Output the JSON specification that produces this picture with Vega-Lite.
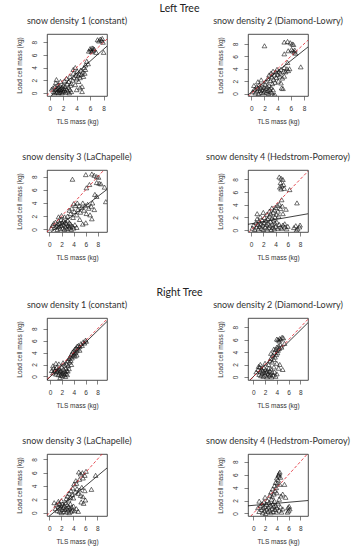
{
"$schema":"https://vega.github.io/schema/vega-lite/v6.json",
"background":"white",
"padding":{"left":15,"top":4,"right":0,"bottom":0},
"config":{
 "view":{"stroke":"#222","strokeWidth":0.8},
 "axis":{"grid":false,"domain":false,"tickColor":"#333","tickSize":4,"tickWidth":0.6,"labelFont":"Liberation Sans","labelFontSize":6.5,"labelColor":"#333","labelFlush":false,"labelOverlap":false,"titleFont":"Liberation Sans","titleFontSize":6.5,"titleFontWeight":"normal","titleColor":"#333","labelPadding":3},
 "axisX":{"titlePadding":7,"labelAngle":0,"labelPadding":5},
 "axisY":{"labelAngle":-90,"labelAlign":"center","labelBaseline":"bottom","labelPadding":6,"titlePadding":9},
 "title":{"font":"Lato","fontSize":9,"fontWeight":"normal","color":"#333","offset":8,"anchor":"middle"}
},
"datasets":{
 "fit":[
  {"p":"L1","x":-1,"y":-1.65,"x2":10,"y2":8.8},
  {"p":"L2","x":-1,"y":-0.65,"x2":10,"y2":8.7},
  {"p":"L3","x":-1,"y":-1.3,"x2":10,"y2":6.4},
  {"p":"L4","x":-1,"y":0.83,"x2":10,"y2":2.7},
  {"p":"R1","x":-1,"y":-1.07,"x2":10,"y2":9.6},
  {"p":"R2","x":-1,"y":-0.9,"x2":10,"y2":9.4},
  {"p":"R3","x":-1,"y":-1.25,"x2":10,"y2":7.0},
  {"p":"R4","x":-1,"y":1.17,"x2":10,"y2":2.05}
 ],
 "pts":[
  {"p":"L1","x":0.3,"y":0.6},{"p":"L1","x":0.5,"y":0.8},{"p":"L1","x":0.6,"y":0.2},{"p":"L1","x":0.8,"y":1.0},{"p":"L1","x":0.9,"y":0.5},{"p":"L1","x":1.0,"y":0.1},{"p":"L1","x":1.1,"y":0.7},{"p":"L1","x":1.2,"y":1.3},{"p":"L1","x":1.2,"y":0.3},{"p":"L1","x":1.3,"y":0.9},{"p":"L1","x":1.4,"y":0.5},{"p":"L1","x":1.5,"y":0.1},{"p":"L1","x":1.5,"y":1.1},{"p":"L1","x":1.6,"y":0.6},{"p":"L1","x":1.7,"y":0.3},{"p":"L1","x":1.8,"y":0.9},{"p":"L1","x":1.8,"y":0.0},{"p":"L1","x":1.9,"y":0.5},{"p":"L1","x":2.0,"y":1.2},{"p":"L1","x":2.0,"y":0.2},{"p":"L1","x":2.1,"y":0.7},{"p":"L1","x":2.2,"y":0.4},{"p":"L1","x":2.3,"y":1.0},{"p":"L1","x":2.4,"y":0.1},{"p":"L1","x":2.5,"y":0.6},{"p":"L1","x":2.6,"y":1.4},{"p":"L1","x":2.7,"y":0.3},{"p":"L1","x":2.8,"y":0.9},{"p":"L1","x":3.0,"y":0.5},{"p":"L1","x":3.1,"y":1.2},{"p":"L1","x":1.0,"y":2.1},{"p":"L1","x":0.9,"y":1.6},{"p":"L1","x":1.6,"y":1.8},{"p":"L1","x":2.2,"y":1.9},{"p":"L1","x":3.2,"y":0.2},{"p":"L1","x":0.7,"y":0.0},{"p":"L1","x":1.3,"y":0.0},{"p":"L1","x":2.9,"y":0.0},
  {"p":"L1","x":2.5,"y":2.3},{"p":"L1","x":2.8,"y":1.8},{"p":"L1","x":3.0,"y":2.6},{"p":"L1","x":3.2,"y":1.5},{"p":"L1","x":3.4,"y":2.0},{"p":"L1","x":3.5,"y":3.1},{"p":"L1","x":3.6,"y":2.4},{"p":"L1","x":3.8,"y":1.3},{"p":"L1","x":3.9,"y":2.8},{"p":"L1","x":4.0,"y":2.2},{"p":"L1","x":4.1,"y":3.4},{"p":"L1","x":4.2,"y":2.7},{"p":"L1","x":4.3,"y":1.8},{"p":"L1","x":4.4,"y":3.0},{"p":"L1","x":4.5,"y":2.4},{"p":"L1","x":4.6,"y":3.6},{"p":"L1","x":4.7,"y":2.9},{"p":"L1","x":4.8,"y":1.0},{"p":"L1","x":4.9,"y":3.3},{"p":"L1","x":5.0,"y":2.6},{"p":"L1","x":5.1,"y":4.0},{"p":"L1","x":5.2,"y":3.1},{"p":"L1","x":5.3,"y":3.7},{"p":"L1","x":4.5,"y":0.8},{"p":"L1","x":4.8,"y":0.2},{"p":"L1","x":3.8,"y":4.0},{"p":"L1","x":3.5,"y":3.7},{"p":"L1","x":4.0,"y":0.5},{"p":"L1","x":5.5,"y":5.0},{"p":"L1","x":5.7,"y":4.6},{"p":"L1","x":5.3,"y":4.4},
  {"p":"L1","x":5.8,"y":6.6},{"p":"L1","x":6.0,"y":7.0},{"p":"L1","x":6.1,"y":6.8},{"p":"L1","x":6.3,"y":7.1},{"p":"L1","x":6.4,"y":6.7},{"p":"L1","x":6.5,"y":7.0},{"p":"L1","x":6.6,"y":6.9},{"p":"L1","x":6.2,"y":6.5},{"p":"L1","x":6.9,"y":6.4},{"p":"L1","x":7.3,"y":8.2},{"p":"L1","x":7.5,"y":8.5},{"p":"L1","x":7.7,"y":8.3},{"p":"L1","x":7.9,"y":8.0},{"p":"L1","x":7.8,"y":8.6},{"p":"L1","x":7.1,"y":8.4},{"p":"L1","x":8.0,"y":6.4},

  {"p":"L2","x":0.2,"y":0.3},{"p":"L2","x":0.5,"y":0.7},{"p":"L2","x":0.6,"y":0.1},{"p":"L2","x":0.8,"y":1.1},{"p":"L2","x":0.9,"y":0.4},{"p":"L2","x":1.0,"y":0.8},{"p":"L2","x":1.1,"y":0.0},{"p":"L2","x":1.2,"y":1.4},{"p":"L2","x":1.3,"y":0.5},{"p":"L2","x":1.4,"y":0.9},{"p":"L2","x":1.5,"y":0.2},{"p":"L2","x":1.6,"y":1.2},{"p":"L2","x":1.7,"y":0.6},{"p":"L2","x":1.8,"y":0.1},{"p":"L2","x":1.9,"y":1.0},{"p":"L2","x":2.0,"y":0.4},{"p":"L2","x":2.1,"y":1.5},{"p":"L2","x":2.2,"y":0.8},{"p":"L2","x":2.3,"y":0.2},{"p":"L2","x":2.4,"y":1.1},{"p":"L2","x":2.5,"y":0.5},{"p":"L2","x":2.6,"y":0.0},{"p":"L2","x":2.7,"y":1.3},{"p":"L2","x":2.8,"y":0.7},{"p":"L2","x":2.9,"y":0.3},{"p":"L2","x":3.0,"y":1.0},{"p":"L2","x":3.1,"y":0.2},{"p":"L2","x":3.2,"y":1.6},{"p":"L2","x":3.3,"y":0.6},{"p":"L2","x":3.4,"y":-0.3},{"p":"L2","x":3.6,"y":-0.2},{"p":"L2","x":1.0,"y":1.9},{"p":"L2","x":1.5,"y":2.2},{"p":"L2","x":2.2,"y":1.9},{"p":"L2","x":0.4,"y":1.3},
  {"p":"L2","x":2.5,"y":2.4},{"p":"L2","x":2.7,"y":3.0},{"p":"L2","x":2.9,"y":2.1},{"p":"L2","x":3.0,"y":3.3},{"p":"L2","x":3.1,"y":2.7},{"p":"L2","x":3.3,"y":3.6},{"p":"L2","x":3.4,"y":2.3},{"p":"L2","x":3.5,"y":3.0},{"p":"L2","x":3.6,"y":1.8},{"p":"L2","x":3.7,"y":3.5},{"p":"L2","x":3.8,"y":2.6},{"p":"L2","x":3.9,"y":3.9},{"p":"L2","x":4.0,"y":3.1},{"p":"L2","x":4.1,"y":2.0},{"p":"L2","x":4.2,"y":3.6},{"p":"L2","x":4.3,"y":2.8},{"p":"L2","x":4.4,"y":3.3},{"p":"L2","x":4.5,"y":1.7},{"p":"L2","x":4.6,"y":0.9},{"p":"L2","x":4.8,"y":0.8},{"p":"L2","x":4.5,"y":3.9},{"p":"L2","x":4.9,"y":3.6},{"p":"L2","x":5.0,"y":4.2},{"p":"L2","x":5.2,"y":3.5},{"p":"L2","x":5.4,"y":4.0},{"p":"L2","x":5.6,"y":3.7},{"p":"L2","x":5.8,"y":4.0},{"p":"L2","x":5.0,"y":2.8},{"p":"L2","x":4.7,"y":2.5},{"p":"L2","x":5.5,"y":5.0},
  {"p":"L2","x":2.0,"y":7.7},{"p":"L2","x":5.0,"y":8.3},{"p":"L2","x":5.5,"y":8.4},{"p":"L2","x":5.9,"y":8.2},{"p":"L2","x":6.2,"y":8.0},{"p":"L2","x":6.4,"y":7.9},{"p":"L2","x":5.0,"y":6.4},{"p":"L2","x":5.6,"y":6.9},{"p":"L2","x":6.1,"y":7.1},{"p":"L2","x":6.3,"y":6.9},{"p":"L2","x":6.5,"y":6.7},{"p":"L2","x":6.6,"y":7.0},{"p":"L2","x":6.7,"y":6.5},{"p":"L2","x":7.5,"y":4.3},

  {"p":"L3","x":0.3,"y":0.2},{"p":"L3","x":0.5,"y":0.6},{"p":"L3","x":0.7,"y":0.9},{"p":"L3","x":0.9,"y":0.3},{"p":"L3","x":1.0,"y":1.1},{"p":"L3","x":1.2,"y":0.5},{"p":"L3","x":1.3,"y":0.0},{"p":"L3","x":1.4,"y":0.8},{"p":"L3","x":1.5,"y":1.3},{"p":"L3","x":1.6,"y":0.4},{"p":"L3","x":1.7,"y":0.9},{"p":"L3","x":1.8,"y":0.1},{"p":"L3","x":1.9,"y":1.5},{"p":"L3","x":2.0,"y":0.6},{"p":"L3","x":2.1,"y":1.0},{"p":"L3","x":2.2,"y":0.2},{"p":"L3","x":2.3,"y":1.3},{"p":"L3","x":2.4,"y":0.7},{"p":"L3","x":2.5,"y":0.0},{"p":"L3","x":2.6,"y":1.1},{"p":"L3","x":2.7,"y":0.4},{"p":"L3","x":2.8,"y":0.9},{"p":"L3","x":2.9,"y":0.1},{"p":"L3","x":3.0,"y":1.4},{"p":"L3","x":3.1,"y":0.6},{"p":"L3","x":3.2,"y":0.2},{"p":"L3","x":3.3,"y":1.0},{"p":"L3","x":3.4,"y":0.4},{"p":"L3","x":3.5,"y":0.8},{"p":"L3","x":3.6,"y":0.0},{"p":"L3","x":3.8,"y":0.5},{"p":"L3","x":4.0,"y":0.2},{"p":"L3","x":4.2,"y":0.7},{"p":"L3","x":4.5,"y":0.3},{"p":"L3","x":2.0,"y":2.1},{"p":"L3","x":1.5,"y":1.9},{"p":"L3","x":2.5,"y":1.9},
  {"p":"L3","x":3.0,"y":2.0},{"p":"L3","x":3.3,"y":2.9},{"p":"L3","x":3.5,"y":2.4},{"p":"L3","x":3.7,"y":3.2},{"p":"L3","x":3.9,"y":1.8},{"p":"L3","x":4.1,"y":2.7},{"p":"L3","x":4.3,"y":3.6},{"p":"L3","x":4.5,"y":2.2},{"p":"L3","x":4.7,"y":3.0},{"p":"L3","x":4.9,"y":3.6},{"p":"L3","x":5.1,"y":2.6},{"p":"L3","x":5.3,"y":3.3},{"p":"L3","x":5.5,"y":4.0},{"p":"L3","x":5.7,"y":2.9},{"p":"L3","x":5.9,"y":3.6},{"p":"L3","x":6.1,"y":2.4},{"p":"L3","x":6.3,"y":3.8},{"p":"L3","x":6.5,"y":3.2},{"p":"L3","x":6.7,"y":2.2},{"p":"L3","x":6.9,"y":3.5},{"p":"L3","x":7.1,"y":4.0},{"p":"L3","x":7.4,"y":3.0},{"p":"L3","x":7.0,"y":1.6},{"p":"L3","x":6.0,"y":1.0},{"p":"L3","x":5.0,"y":1.5},{"p":"L3","x":5.5,"y":0.8},{"p":"L3","x":9.3,"y":4.2},{"p":"L3","x":4.0,"y":3.9},{"p":"L3","x":4.6,"y":4.0},
  {"p":"L3","x":3.8,"y":7.6},{"p":"L3","x":6.0,"y":8.3},{"p":"L3","x":7.0,"y":8.4},{"p":"L3","x":7.4,"y":8.2},{"p":"L3","x":7.8,"y":8.0},{"p":"L3","x":8.1,"y":7.9},{"p":"L3","x":7.8,"y":7.1},{"p":"L3","x":8.2,"y":7.0},{"p":"L3","x":8.5,"y":6.9},{"p":"L3","x":6.6,"y":6.8},{"p":"L3","x":6.1,"y":6.3},{"p":"L3","x":9.1,"y":6.4},{"p":"L3","x":7.5,"y":5.3},{"p":"L3","x":7.8,"y":5.0},

  {"p":"L4","x":0.2,"y":0.3},{"p":"L4","x":0.4,"y":0.8},{"p":"L4","x":0.6,"y":0.1},{"p":"L4","x":0.8,"y":1.2},{"p":"L4","x":0.9,"y":0.5},{"p":"L4","x":1.0,"y":1.8},{"p":"L4","x":1.1,"y":0.9},{"p":"L4","x":1.2,"y":0.2},{"p":"L4","x":1.3,"y":1.4},{"p":"L4","x":1.4,"y":0.6},{"p":"L4","x":1.5,"y":2.1},{"p":"L4","x":1.6,"y":1.0},{"p":"L4","x":1.7,"y":0.3},{"p":"L4","x":1.8,"y":1.6},{"p":"L4","x":1.9,"y":0.8},{"p":"L4","x":2.0,"y":0.1},{"p":"L4","x":2.1,"y":1.2},{"p":"L4","x":2.2,"y":2.0},{"p":"L4","x":2.3,"y":0.5},{"p":"L4","x":2.4,"y":1.5},{"p":"L4","x":2.5,"y":0.9},{"p":"L4","x":2.6,"y":0.2},{"p":"L4","x":2.7,"y":1.8},{"p":"L4","x":2.8,"y":1.1},{"p":"L4","x":2.9,"y":0.4},{"p":"L4","x":3.0,"y":2.2},{"p":"L4","x":3.1,"y":0.7},{"p":"L4","x":3.2,"y":1.4},{"p":"L4","x":3.3,"y":0.1},{"p":"L4","x":3.4,"y":1.9},{"p":"L4","x":3.5,"y":0.9},{"p":"L4","x":3.6,"y":0.4},{"p":"L4","x":3.7,"y":1.6},{"p":"L4","x":3.8,"y":0.2},{"p":"L4","x":3.9,"y":1.1},{"p":"L4","x":4.0,"y":0.6},{"p":"L4","x":4.2,"y":1.3},{"p":"L4","x":4.4,"y":0.3},{"p":"L4","x":4.6,"y":0.9},{"p":"L4","x":4.8,"y":0.5},{"p":"L4","x":5.0,"y":0.3},{"p":"L4","x":5.2,"y":0.8},{"p":"L4","x":5.5,"y":0.5},{"p":"L4","x":5.8,"y":0.2},{"p":"L4","x":1.0,"y":2.6},{"p":"L4","x":2.0,"y":2.8},{"p":"L4","x":2.6,"y":2.5},
  {"p":"L4","x":3.0,"y":3.0},{"p":"L4","x":3.2,"y":2.6},{"p":"L4","x":3.4,"y":3.5},{"p":"L4","x":3.6,"y":2.8},{"p":"L4","x":3.8,"y":3.2},{"p":"L4","x":4.0,"y":3.6},{"p":"L4","x":4.1,"y":2.5},{"p":"L4","x":4.3,"y":3.9},{"p":"L4","x":4.4,"y":3.0},{"p":"L4","x":4.6,"y":4.1},{"p":"L4","x":4.8,"y":3.4},{"p":"L4","x":5.0,"y":4.8},{"p":"L4","x":5.1,"y":3.8},{"p":"L4","x":4.5,"y":2.2},{"p":"L4","x":3.9,"y":2.1},{"p":"L4","x":5.2,"y":2.6},{"p":"L4","x":5.7,"y":3.3},{"p":"L4","x":7.5,"y":4.3},
  {"p":"L4","x":4.6,"y":8.4},{"p":"L4","x":4.9,"y":8.2},{"p":"L4","x":5.2,"y":8.0},{"p":"L4","x":4.8,"y":7.5},{"p":"L4","x":5.0,"y":7.0},{"p":"L4","x":5.3,"y":7.2},{"p":"L4","x":4.7,"y":6.8},{"p":"L4","x":5.4,"y":6.6},{"p":"L4","x":4.9,"y":6.5},{"p":"L4","x":6.3,"y":6.4},
  {"p":"L4","x":7.0,"y":0.4},{"p":"L4","x":7.3,"y":0.7},{"p":"L4","x":7.6,"y":0.2},{"p":"L4","x":7.9,"y":0.5},{"p":"L4","x":7.4,"y":0.0},{"p":"L4","x":8.0,"y":0.8},{"p":"L4","x":5.5,"y":1.0},{"p":"L4","x":6.0,"y":0.6},

  {"p":"R1","x":0.3,"y":1.0},{"p":"R1","x":0.5,"y":0.6},{"p":"R1","x":0.6,"y":1.4},{"p":"R1","x":0.8,"y":0.9},{"p":"R1","x":0.9,"y":1.2},{"p":"R1","x":1.0,"y":0.4},{"p":"R1","x":1.1,"y":1.5},{"p":"R1","x":1.2,"y":0.8},{"p":"R1","x":1.3,"y":1.1},{"p":"R1","x":1.4,"y":0.3},{"p":"R1","x":1.5,"y":1.3},{"p":"R1","x":1.6,"y":0.7},{"p":"R1","x":1.7,"y":1.0},{"p":"R1","x":1.8,"y":0.2},{"p":"R1","x":1.9,"y":0.9},{"p":"R1","x":2.0,"y":0.5},{"p":"R1","x":2.0,"y":1.6},{"p":"R1","x":2.1,"y":0.1},{"p":"R1","x":2.2,"y":0.7},{"p":"R1","x":2.3,"y":1.2},{"p":"R1","x":2.4,"y":0.3},{"p":"R1","x":2.5,"y":0.8},{"p":"R1","x":2.6,"y":0.0},{"p":"R1","x":2.7,"y":0.5},{"p":"R1","x":2.8,"y":1.0},{"p":"R1","x":1.0,"y":2.2},{"p":"R1","x":1.5,"y":2.1},{"p":"R1","x":2.2,"y":2.3},{"p":"R1","x":0.5,"y":1.8},{"p":"R1","x":2.9,"y":0.3},{"p":"R1","x":3.0,"y":0.9},{"p":"R1","x":1.7,"y":-0.2},
  {"p":"R1","x":2.5,"y":1.9},{"p":"R1","x":2.8,"y":2.1},{"p":"R1","x":3.0,"y":2.6},{"p":"R1","x":3.1,"y":1.8},{"p":"R1","x":3.2,"y":3.0},{"p":"R1","x":3.3,"y":2.4},{"p":"R1","x":3.4,"y":3.3},{"p":"R1","x":3.5,"y":2.7},{"p":"R1","x":3.6,"y":3.7},{"p":"R1","x":3.7,"y":3.1},{"p":"R1","x":3.8,"y":4.1},{"p":"R1","x":3.9,"y":3.5},{"p":"R1","x":4.0,"y":4.3},{"p":"R1","x":4.1,"y":3.8},{"p":"R1","x":4.2,"y":4.6},{"p":"R1","x":4.3,"y":4.0},{"p":"R1","x":4.4,"y":4.8},{"p":"R1","x":4.5,"y":4.3},{"p":"R1","x":4.6,"y":5.1},{"p":"R1","x":4.7,"y":4.6},{"p":"R1","x":4.8,"y":5.2},{"p":"R1","x":5.0,"y":5.0},{"p":"R1","x":5.2,"y":5.5},{"p":"R1","x":5.4,"y":5.2},{"p":"R1","x":5.6,"y":5.8},{"p":"R1","x":5.8,"y":5.6},{"p":"R1","x":6.0,"y":6.1},{"p":"R1","x":6.1,"y":5.9},{"p":"R1","x":4.2,"y":3.4},{"p":"R1","x":3.6,"y":2.0},{"p":"R1","x":4.5,"y":3.6},{"p":"R1","x":5.0,"y":4.4},{"p":"R1","x":3.2,"y":1.3},{"p":"R1","x":2.7,"y":1.4},

  {"p":"R2","x":0.5,"y":0.8},{"p":"R2","x":0.8,"y":1.2},{"p":"R2","x":1.0,"y":0.4},{"p":"R2","x":1.1,"y":1.6},{"p":"R2","x":1.2,"y":0.9},{"p":"R2","x":1.3,"y":0.2},{"p":"R2","x":1.4,"y":1.3},{"p":"R2","x":1.5,"y":0.6},{"p":"R2","x":1.6,"y":1.0},{"p":"R2","x":1.7,"y":0.1},{"p":"R2","x":1.8,"y":1.5},{"p":"R2","x":1.9,"y":0.7},{"p":"R2","x":2.0,"y":0.3},{"p":"R2","x":2.1,"y":1.2},{"p":"R2","x":2.2,"y":0.8},{"p":"R2","x":2.3,"y":0.0},{"p":"R2","x":2.4,"y":1.0},{"p":"R2","x":2.5,"y":0.5},{"p":"R2","x":2.6,"y":1.4},{"p":"R2","x":2.7,"y":0.2},{"p":"R2","x":2.8,"y":0.9},{"p":"R2","x":2.9,"y":0.4},{"p":"R2","x":3.0,"y":1.3},{"p":"R2","x":3.1,"y":0.0},{"p":"R2","x":3.2,"y":0.7},{"p":"R2","x":3.4,"y":0.3},{"p":"R2","x":3.6,"y":0.8},{"p":"R2","x":3.8,"y":0.1},{"p":"R2","x":4.0,"y":0.5},{"p":"R2","x":1.2,"y":2.0},{"p":"R2","x":2.0,"y":2.2},{"p":"R2","x":2.6,"y":2.0},{"p":"R2","x":0.9,"y":1.7},
  {"p":"R2","x":2.8,"y":2.6},{"p":"R2","x":3.0,"y":3.0},{"p":"R2","x":3.2,"y":2.4},{"p":"R2","x":3.3,"y":3.5},{"p":"R2","x":3.5,"y":2.8},{"p":"R2","x":3.6,"y":4.0},{"p":"R2","x":3.7,"y":3.2},{"p":"R2","x":3.8,"y":4.4},{"p":"R2","x":3.9,"y":3.6},{"p":"R2","x":4.0,"y":4.8},{"p":"R2","x":4.1,"y":3.9},{"p":"R2","x":4.2,"y":4.3},{"p":"R2","x":4.3,"y":5.0},{"p":"R2","x":4.4,"y":4.6},{"p":"R2","x":3.5,"y":4.5},{"p":"R2","x":3.0,"y":3.8},{"p":"R2","x":4.0,"y":6.1},{"p":"R2","x":4.2,"y":6.0},{"p":"R2","x":4.4,"y":5.8},{"p":"R2","x":4.5,"y":6.2},{"p":"R2","x":4.7,"y":6.1},{"p":"R2","x":4.9,"y":6.4},{"p":"R2","x":5.1,"y":6.3},{"p":"R2","x":5.3,"y":5.4},{"p":"R2","x":4.6,"y":5.2},{"p":"R2","x":4.8,"y":4.8},{"p":"R2","x":4.0,"y":2.2},{"p":"R2","x":4.5,"y":2.0},{"p":"R2","x":5.0,"y":1.2},{"p":"R2","x":3.5,"y":1.6},{"p":"R2","x":4.3,"y":1.4},

  {"p":"R3","x":1.0,"y":0.6},{"p":"R3","x":1.2,"y":1.2},{"p":"R3","x":1.3,"y":0.3},{"p":"R3","x":1.5,"y":0.9},{"p":"R3","x":1.6,"y":1.4},{"p":"R3","x":1.7,"y":0.2},{"p":"R3","x":1.8,"y":0.7},{"p":"R3","x":1.9,"y":1.1},{"p":"R3","x":2.0,"y":0.0},{"p":"R3","x":2.1,"y":0.5},{"p":"R3","x":2.2,"y":1.3},{"p":"R3","x":2.3,"y":0.8},{"p":"R3","x":2.4,"y":0.2},{"p":"R3","x":2.5,"y":1.0},{"p":"R3","x":2.6,"y":0.5},{"p":"R3","x":2.7,"y":1.5},{"p":"R3","x":2.8,"y":0.1},{"p":"R3","x":2.9,"y":0.7},{"p":"R3","x":3.0,"y":1.2},{"p":"R3","x":3.1,"y":0.4},{"p":"R3","x":3.2,"y":0.9},{"p":"R3","x":3.3,"y":0.0},{"p":"R3","x":3.4,"y":0.6},{"p":"R3","x":3.5,"y":1.3},{"p":"R3","x":3.6,"y":0.2},{"p":"R3","x":3.7,"y":0.8},{"p":"R3","x":3.8,"y":0.4},{"p":"R3","x":4.0,"y":1.0},{"p":"R3","x":4.2,"y":0.3},{"p":"R3","x":4.5,"y":0.6},{"p":"R3","x":4.8,"y":0.2},{"p":"R3","x":1.5,"y":1.7},{"p":"R3","x":2.0,"y":1.8},{"p":"R3","x":0.8,"y":1.5},
  {"p":"R3","x":2.8,"y":2.1},{"p":"R3","x":3.0,"y":2.5},{"p":"R3","x":3.2,"y":1.9},{"p":"R3","x":3.3,"y":2.9},{"p":"R3","x":3.5,"y":2.3},{"p":"R3","x":3.6,"y":3.3},{"p":"R3","x":3.8,"y":2.7},{"p":"R3","x":3.9,"y":3.7},{"p":"R3","x":4.0,"y":2.2},{"p":"R3","x":4.1,"y":4.3},{"p":"R3","x":4.3,"y":3.1},{"p":"R3","x":4.5,"y":4.4},{"p":"R3","x":4.6,"y":3.6},{"p":"R3","x":4.8,"y":2.9},{"p":"R3","x":5.0,"y":3.4},{"p":"R3","x":5.2,"y":2.6},{"p":"R3","x":5.4,"y":3.8},{"p":"R3","x":5.6,"y":2.4},{"p":"R3","x":5.9,"y":3.3},{"p":"R3","x":5.3,"y":1.6},{"p":"R3","x":5.7,"y":1.4},{"p":"R3","x":6.0,"y":1.9},{"p":"R3","x":7.0,"y":3.5},{"p":"R3","x":7.7,"y":5.6},{"p":"R3","x":4.9,"y":6.1},{"p":"R3","x":5.2,"y":5.8},{"p":"R3","x":5.5,"y":6.0},{"p":"R3","x":5.9,"y":5.6},{"p":"R3","x":6.1,"y":6.2},{"p":"R3","x":5.0,"y":5.0},{"p":"R3","x":5.6,"y":5.2},{"p":"R3","x":4.4,"y":4.8},

  {"p":"R4","x":0.8,"y":0.9},{"p":"R4","x":1.0,"y":0.3},{"p":"R4","x":1.2,"y":1.2},{"p":"R4","x":1.4,"y":0.6},{"p":"R4","x":1.5,"y":1.5},{"p":"R4","x":1.6,"y":0.1},{"p":"R4","x":1.7,"y":0.9},{"p":"R4","x":1.8,"y":1.8},{"p":"R4","x":1.9,"y":0.4},{"p":"R4","x":2.0,"y":1.1},{"p":"R4","x":2.1,"y":0.0},{"p":"R4","x":2.2,"y":1.4},{"p":"R4","x":2.3,"y":0.7},{"p":"R4","x":2.4,"y":2.0},{"p":"R4","x":2.5,"y":0.3},{"p":"R4","x":2.6,"y":1.0},{"p":"R4","x":2.7,"y":1.7},{"p":"R4","x":2.8,"y":0.5},{"p":"R4","x":2.9,"y":1.3},{"p":"R4","x":3.0,"y":0.1},{"p":"R4","x":3.1,"y":2.2},{"p":"R4","x":3.2,"y":0.8},{"p":"R4","x":3.3,"y":1.5},{"p":"R4","x":3.4,"y":0.3},{"p":"R4","x":3.5,"y":1.1},{"p":"R4","x":3.6,"y":1.9},{"p":"R4","x":3.7,"y":0.6},{"p":"R4","x":3.8,"y":1.2},{"p":"R4","x":3.9,"y":0.2},{"p":"R4","x":4.0,"y":0.9},{"p":"R4","x":4.2,"y":1.6},{"p":"R4","x":4.4,"y":0.5},{"p":"R4","x":4.6,"y":1.0},{"p":"R4","x":4.8,"y":0.2},{"p":"R4","x":5.0,"y":0.7},{"p":"R4","x":1.0,"y":1.9},{"p":"R4","x":2.0,"y":2.5},
  {"p":"R4","x":2.8,"y":2.8},{"p":"R4","x":3.0,"y":3.3},{"p":"R4","x":3.2,"y":2.6},{"p":"R4","x":3.3,"y":3.8},{"p":"R4","x":3.5,"y":3.0},{"p":"R4","x":3.6,"y":4.3},{"p":"R4","x":3.7,"y":3.5},{"p":"R4","x":3.9,"y":4.0},{"p":"R4","x":4.0,"y":3.2},{"p":"R4","x":4.1,"y":4.7},{"p":"R4","x":4.2,"y":5.2},{"p":"R4","x":4.3,"y":5.8},{"p":"R4","x":4.4,"y":6.2},{"p":"R4","x":4.5,"y":6.4},{"p":"R4","x":4.3,"y":6.0},{"p":"R4","x":4.6,"y":5.6},{"p":"R4","x":4.0,"y":5.5},{"p":"R4","x":3.8,"y":4.8},{"p":"R4","x":4.5,"y":4.5},{"p":"R4","x":5.3,"y":4.5},{"p":"R4","x":5.0,"y":3.0},{"p":"R4","x":4.7,"y":2.7},{"p":"R4","x":5.5,"y":2.5},{"p":"R4","x":4.4,"y":2.2},
  {"p":"R4","x":5.9,"y":0.9},{"p":"R4","x":6.0,"y":0.4},{"p":"R4","x":6.2,"y":0.7},{"p":"R4","x":6.1,"y":1.1},{"p":"R4","x":5.8,"y":0.2}
 ]
},
"spacing":26,
"vconcat":[
   {"title":{"text":"Left Tree\u00a0\u00a0\u00a0\u00a0\u00a0\u00a0\u00a0\u00a0","fontSize":10.5,"color":"#222","offset":2},"bounds":"flush","spacing":141,"hconcat":[
    {"width":60,"height":62,"title":"snow density 1 (constant)","layer":[
     {"data":{"name":"pts"},"transform":[{"filter":"datum.p=='L1'"}],"mark":{"type":"point","shape":"triangle-up","filled":false,"color":"#111","strokeWidth":0.6,"size":22,"clip":true,"opacity":1},
      "encoding":{"x":{"field":"x","type":"quantitative","scale":{"domain":[-0.4,8.5],"nice":false,"zero":false},"axis":{"values":[0,2,4,6,8],"tickCount":5,"title":"TLS mass (kg)"}},"y":{"field":"y","type":"quantitative","scale":{"domain":[-0.5,9.3],"nice":false,"zero":false},"axis":{"values":[0,2,4,6,8],"tickCount":5,"title":"Load cell mass (kg)"}}}},
     {"data":{"name":"fit"},"transform":[{"filter":"datum.p=='L1'"}],"mark":{"type":"rule","clip":true,"color":"#111","strokeWidth":0.8},"encoding":{"x":{"field":"x","type":"quantitative"},"y":{"field":"y","type":"quantitative"},"x2":{"field":"x2"},"y2":{"field":"y2"}}},
     {"data":{"values":[{"x":-1,"y":-1,"x2":10,"y2":10}]},"mark":{"type":"rule","clip":true,"color":"#e0202a","strokeWidth":0.8,"strokeDash":[3,2]},"encoding":{"x":{"field":"x","type":"quantitative"},"y":{"field":"y","type":"quantitative"},"x2":{"field":"x2"},"y2":{"field":"y2"}}}
    ]},
    {"width":60,"height":62,"title":"snow density 2 (Diamond-Lowry)","layer":[
     {"data":{"name":"pts"},"transform":[{"filter":"datum.p=='L2'"}],"mark":{"type":"point","shape":"triangle-up","filled":false,"color":"#111","strokeWidth":0.6,"size":22,"clip":true,"opacity":1},
      "encoding":{"x":{"field":"x","type":"quantitative","scale":{"domain":[-0.5,8.6],"nice":false,"zero":false},"axis":{"values":[0,2,4,6,8],"tickCount":5,"title":"TLS mass (kg)"}},"y":{"field":"y","type":"quantitative","scale":{"domain":[-0.4,9.6],"nice":false,"zero":false},"axis":{"values":[0,2,4,6,8],"tickCount":5,"title":"Load cell mass (kg)"}}}},
     {"data":{"name":"fit"},"transform":[{"filter":"datum.p=='L2'"}],"mark":{"type":"rule","clip":true,"color":"#111","strokeWidth":0.8},"encoding":{"x":{"field":"x","type":"quantitative"},"y":{"field":"y","type":"quantitative"},"x2":{"field":"x2"},"y2":{"field":"y2"}}},
     {"data":{"values":[{"x":-1,"y":-1,"x2":10,"y2":10}]},"mark":{"type":"rule","clip":true,"color":"#e0202a","strokeWidth":0.8,"strokeDash":[3,2]},"encoding":{"x":{"field":"x","type":"quantitative"},"y":{"field":"y","type":"quantitative"},"x2":{"field":"x2"},"y2":{"field":"y2"}}}
    ]}
   ]},
   {"bounds":"flush","spacing":141,"hconcat":[
    {"width":60,"height":62,"title":"snow density 3 (LaChapelle)","layer":[
     {"data":{"name":"pts"},"transform":[{"filter":"datum.p=='L3'"}],"mark":{"type":"point","shape":"triangle-up","filled":false,"color":"#111","strokeWidth":0.6,"size":22,"clip":true,"opacity":1},
      "encoding":{"x":{"field":"x","type":"quantitative","scale":{"domain":[-0.4,9.5],"nice":false,"zero":false},"axis":{"values":[0,2,4,6,8],"tickCount":5,"title":"TLS mass (kg)"}},"y":{"field":"y","type":"quantitative","scale":{"domain":[-0.4,9.0],"nice":false,"zero":false},"axis":{"values":[0,2,4,6,8],"tickCount":5,"title":"Load cell mass (kg)"}}}},
     {"data":{"name":"fit"},"transform":[{"filter":"datum.p=='L3'"}],"mark":{"type":"rule","clip":true,"color":"#111","strokeWidth":0.8},"encoding":{"x":{"field":"x","type":"quantitative"},"y":{"field":"y","type":"quantitative"},"x2":{"field":"x2"},"y2":{"field":"y2"}}},
     {"data":{"values":[{"x":-1,"y":-1,"x2":10,"y2":10}]},"mark":{"type":"rule","clip":true,"color":"#e0202a","strokeWidth":0.8,"strokeDash":[3,2]},"encoding":{"x":{"field":"x","type":"quantitative"},"y":{"field":"y","type":"quantitative"},"x2":{"field":"x2"},"y2":{"field":"y2"}}}
    ]},
    {"width":60,"height":62,"title":"snow density 4 (Hedstrom-Pomeroy)","layer":[
     {"data":{"name":"pts"},"transform":[{"filter":"datum.p=='L4'"}],"mark":{"type":"point","shape":"triangle-up","filled":false,"color":"#111","strokeWidth":0.6,"size":22,"clip":true,"opacity":1},
      "encoding":{"x":{"field":"x","type":"quantitative","scale":{"domain":[-0.5,9.3],"nice":false,"zero":false},"axis":{"values":[0,2,4,6,8],"tickCount":5,"title":"TLS mass (kg)"}},"y":{"field":"y","type":"quantitative","scale":{"domain":[-0.3,9.5],"nice":false,"zero":false},"axis":{"values":[0,2,4,6,8],"tickCount":5,"title":"Load cell mass (kg)"}}}},
     {"data":{"name":"fit"},"transform":[{"filter":"datum.p=='L4'"}],"mark":{"type":"rule","clip":true,"color":"#111","strokeWidth":0.8},"encoding":{"x":{"field":"x","type":"quantitative"},"y":{"field":"y","type":"quantitative"},"x2":{"field":"x2"},"y2":{"field":"y2"}}},
     {"data":{"values":[{"x":-1,"y":-1,"x2":10,"y2":10}]},"mark":{"type":"rule","clip":true,"color":"#e0202a","strokeWidth":0.8,"strokeDash":[3,2]},"encoding":{"x":{"field":"x","type":"quantitative"},"y":{"field":"y","type":"quantitative"},"x2":{"field":"x2"},"y2":{"field":"y2"}}}
    ]}
   ]},
   {"title":{"text":"Right Tree\u00a0\u00a0\u00a0\u00a0\u00a0\u00a0\u00a0\u00a0","fontSize":10.5,"color":"#222","offset":2},"bounds":"flush","spacing":141,"hconcat":[
    {"width":60,"height":62,"title":"snow density 1 (constant)","layer":[
     {"data":{"name":"pts"},"transform":[{"filter":"datum.p=='R1'"}],"mark":{"type":"point","shape":"triangle-up","filled":false,"color":"#111","strokeWidth":0.6,"size":22,"clip":true,"opacity":1},
      "encoding":{"x":{"field":"x","type":"quantitative","scale":{"domain":[-0.5,9.6],"nice":false,"zero":false},"axis":{"values":[0,2,4,6,8],"tickCount":5,"title":"TLS mass (kg)"}},"y":{"field":"y","type":"quantitative","scale":{"domain":[-0.6,9.8],"nice":false,"zero":false},"axis":{"values":[0,2,4,6,8],"tickCount":5,"title":"Load cell mass (kg)"}}}},
     {"data":{"name":"fit"},"transform":[{"filter":"datum.p=='R1'"}],"mark":{"type":"rule","clip":true,"color":"#111","strokeWidth":0.8},"encoding":{"x":{"field":"x","type":"quantitative"},"y":{"field":"y","type":"quantitative"},"x2":{"field":"x2"},"y2":{"field":"y2"}}},
     {"data":{"values":[{"x":-1,"y":-1,"x2":10,"y2":10}]},"mark":{"type":"rule","clip":true,"color":"#e0202a","strokeWidth":0.8,"strokeDash":[3,2]},"encoding":{"x":{"field":"x","type":"quantitative"},"y":{"field":"y","type":"quantitative"},"x2":{"field":"x2"},"y2":{"field":"y2"}}}
    ]},
    {"width":60,"height":62,"title":"snow density 2 (Diamond-Lowry)","layer":[
     {"data":{"name":"pts"},"transform":[{"filter":"datum.p=='R2'"}],"mark":{"type":"point","shape":"triangle-up","filled":false,"color":"#111","strokeWidth":0.6,"size":22,"clip":true,"opacity":1},
      "encoding":{"x":{"field":"x","type":"quantitative","scale":{"domain":[-0.9,9.3],"nice":false,"zero":false},"axis":{"values":[0,2,4,6,8],"tickCount":5,"title":"TLS mass (kg)"}},"y":{"field":"y","type":"quantitative","scale":{"domain":[-0.5,9.5],"nice":false,"zero":false},"axis":{"values":[0,2,4,6,8],"tickCount":5,"title":"Load cell mass (kg)"}}}},
     {"data":{"name":"fit"},"transform":[{"filter":"datum.p=='R2'"}],"mark":{"type":"rule","clip":true,"color":"#111","strokeWidth":0.8},"encoding":{"x":{"field":"x","type":"quantitative"},"y":{"field":"y","type":"quantitative"},"x2":{"field":"x2"},"y2":{"field":"y2"}}},
     {"data":{"values":[{"x":-1,"y":-1,"x2":10,"y2":10}]},"mark":{"type":"rule","clip":true,"color":"#e0202a","strokeWidth":0.8,"strokeDash":[3,2]},"encoding":{"x":{"field":"x","type":"quantitative"},"y":{"field":"y","type":"quantitative"},"x2":{"field":"x2"},"y2":{"field":"y2"}}}
    ]}
   ]},
   {"bounds":"flush","spacing":141,"hconcat":[
    {"width":60,"height":62,"title":"snow density 3 (LaChapelle)","layer":[
     {"data":{"name":"pts"},"transform":[{"filter":"datum.p=='R3'"}],"mark":{"type":"point","shape":"triangle-up","filled":false,"color":"#111","strokeWidth":0.6,"size":22,"clip":true,"opacity":1},
      "encoding":{"x":{"field":"x","type":"quantitative","scale":{"domain":[-0.4,9.6],"nice":false,"zero":false},"axis":{"values":[0,2,4,6,8],"tickCount":5,"title":"TLS mass (kg)"}},"y":{"field":"y","type":"quantitative","scale":{"domain":[-0.5,8.8],"nice":false,"zero":false},"axis":{"values":[0,2,4,6,8],"tickCount":5,"title":"Load cell mass (kg)"}}}},
     {"data":{"name":"fit"},"transform":[{"filter":"datum.p=='R3'"}],"mark":{"type":"rule","clip":true,"color":"#111","strokeWidth":0.8},"encoding":{"x":{"field":"x","type":"quantitative"},"y":{"field":"y","type":"quantitative"},"x2":{"field":"x2"},"y2":{"field":"y2"}}},
     {"data":{"values":[{"x":-1,"y":-1,"x2":10,"y2":10}]},"mark":{"type":"rule","clip":true,"color":"#e0202a","strokeWidth":0.8,"strokeDash":[3,2]},"encoding":{"x":{"field":"x","type":"quantitative"},"y":{"field":"y","type":"quantitative"},"x2":{"field":"x2"},"y2":{"field":"y2"}}}
    ]},
    {"width":60,"height":62,"title":"snow density 4 (Hedstrom-Pomeroy)","layer":[
     {"data":{"name":"pts"},"transform":[{"filter":"datum.p=='R4'"}],"mark":{"type":"point","shape":"triangle-up","filled":false,"color":"#111","strokeWidth":0.6,"size":22,"clip":true,"opacity":1},
      "encoding":{"x":{"field":"x","type":"quantitative","scale":{"domain":[-0.9,9.3],"nice":false,"zero":false},"axis":{"values":[0,2,4,6,8],"tickCount":5,"title":"TLS mass (kg)"}},"y":{"field":"y","type":"quantitative","scale":{"domain":[-0.4,9.2],"nice":false,"zero":false},"axis":{"values":[0,2,4,6,8],"tickCount":5,"title":"Load cell mass (kg)"}}}},
     {"data":{"name":"fit"},"transform":[{"filter":"datum.p=='R4'"}],"mark":{"type":"rule","clip":true,"color":"#111","strokeWidth":0.8},"encoding":{"x":{"field":"x","type":"quantitative"},"y":{"field":"y","type":"quantitative"},"x2":{"field":"x2"},"y2":{"field":"y2"}}},
     {"data":{"values":[{"x":-1,"y":-1,"x2":10,"y2":10}]},"mark":{"type":"rule","clip":true,"color":"#e0202a","strokeWidth":0.8,"strokeDash":[3,2]},"encoding":{"x":{"field":"x","type":"quantitative"},"y":{"field":"y","type":"quantitative"},"x2":{"field":"x2"},"y2":{"field":"y2"}}}
    ]}
   ]}
]
}
